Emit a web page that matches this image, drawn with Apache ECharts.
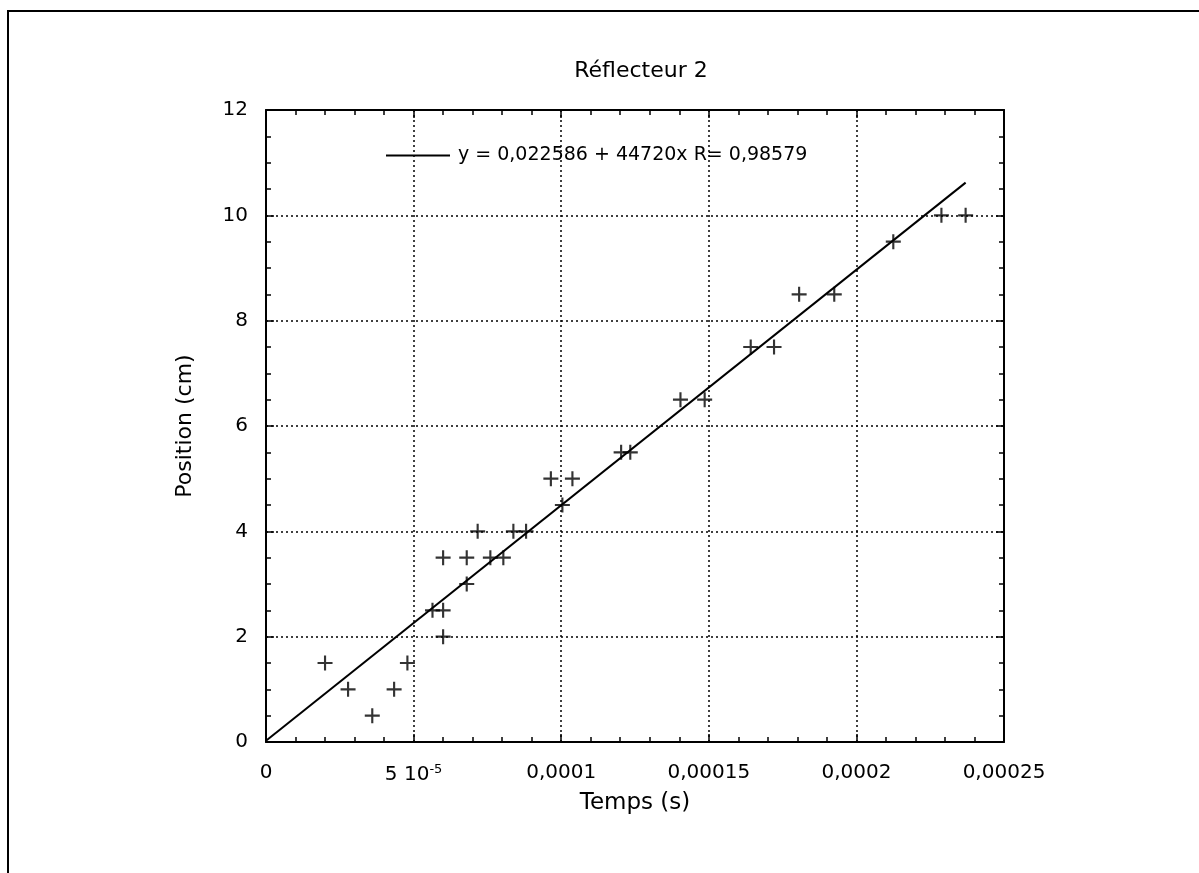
<!DOCTYPE html>
<html>
<head>
<meta charset="utf-8">
<script src="https://cdn.jsdelivr.net/npm/echarts@6/dist/echarts.min.js"></script>
<style>
html,body{margin:0;padding:0;background:#fff;}
#chart{width:1199px;height:873px;}
</style>
</head>
<body>
<div id="chart"></div>
<script>
// ---- data ----
const chartTitle = 'Réflecteur 2';
const xAxisName = 'Temps (s)';
const yAxisName = 'Position (cm)';
const tempsS = [2.0e-5, 2.78e-5, 3.6e-5, 4.34e-5, 4.79e-5, 5.64e-5, 6.0e-5, 6.0e-5, 6.0e-5, 6.8e-5,
  6.8e-5, 7.17e-5, 7.6e-5, 8.04e-5, 8.38e-5, 8.81e-5, 9.65e-5, 1.004e-4, 1.038e-4, 1.203e-4,
  1.234e-4, 1.404e-4, 1.486e-4, 1.642e-4, 1.721e-4, 1.806e-4, 1.925e-4, 2.125e-4, 2.288e-4, 2.37e-4];
const positionCm = [1.5, 1.0, 0.5, 1.0, 1.5, 2.5, 2.5, 2.0, 3.5, 3.5,
  3.0, 4.0, 3.5, 3.5, 4.0, 4.0, 5.0, 4.5, 5.0, 5.5,
  5.5, 6.5, 6.5, 7.5, 7.5, 8.5, 8.5, 9.5, 10.0, 10.0];
const fitIntercept = 0.022586;
const fitSlope = 44720;
const fitRange = [0, 0.000237];
const fitLabel = 'y = 0,022586 + 44720x R= 0,98579';
const xTickLabels = ['0', '5 10{sup|-5}', '0,0001', '0,00015', '0,0002', '0,00025'];
const yTickLabels = ['0', '2', '4', '6', '8', '10', '12'];

const scatterData = tempsS.map((t, i) => [t, positionCm[i]]);
const fitData = fitRange.map(x => [x, fitIntercept + fitSlope * x]);

const FONT = '"DejaVu Sans", "Liberation Sans", Arial, sans-serif';
const plusPath = 'path://M-1,-7H1V-1H7V1H1V7H-1V1H-7V-1H-1Z';

const xStep = 0.00005, yStep = 2;
const baseX = {
  type: 'value', min: 0, max: 0.00025, interval: xStep,
  axisLine: {show: true, onZero: false, lineStyle: {color: '#000', width: 2}},
  axisTick: {show: true, inside: true, length: 8, lineStyle: {color: '#000', width: 1.5}},
  minorTick: {show: true, splitNumber: 5, length: 5, lineStyle: {color: '#000', width: 1.5}},
  splitLine: {show: false}
};
const baseY = {
  type: 'value', min: 0, max: 12, interval: yStep,
  axisLine: {show: true, onZero: false, lineStyle: {color: '#000', width: 2}},
  axisTick: {show: true, inside: true, length: 8, lineStyle: {color: '#000', width: 1.5}},
  minorTick: {show: true, splitNumber: 4, length: 5, lineStyle: {color: '#000', width: 1.5}},
  splitLine: {show: false}
};

const chart = echarts.init(document.getElementById('chart'), null, {renderer: 'canvas'});
chart.setOption({
  backgroundColor: '#fff',
  animation: false,
  textStyle: {fontFamily: FONT, color: '#000'},
  title: {
    text: chartTitle, left: 636, top: 55, textAlign: 'center',
    textStyle: {fontFamily: FONT, fontSize: 22, fontWeight: 'normal', color: '#000'}
  },
  legend: {
    data: [{name: fitLabel, icon: 'rect'}],
    left: 381, top: 141,
    itemWidth: 64, itemHeight: 2, itemGap: 4,
    textStyle: {fontFamily: FONT, fontSize: 19, color: '#000', padding: [0, 0, 0, 3]}
  },
  grid: {left: 266, right: 195, top: 110, bottom: 131},
  xAxis: [
    Object.assign({}, baseX, {
      position: 'bottom',
      name: xAxisName, nameLocation: 'middle', nameGap: 50,
      nameTextStyle: {fontFamily: FONT, fontSize: 23, color: '#000'},
      axisLabel: {
        show: true, margin: 21, color: '#000', fontFamily: FONT, fontSize: 20,
        formatter: v => xTickLabels[Math.round(v / xStep)] || '',
        rich: {sup: {fontSize: 13, verticalAlign: 'top', padding: [0, 0, 10, 0], fontFamily: FONT, color: '#000'}}
      },
      splitLine: {show: true, lineStyle: {color: '#000', width: 1.5, type: [2, 3]}}
    }),
    Object.assign({}, baseX, {position: 'top', axisLabel: {show: false}})
  ],
  yAxis: [
    Object.assign({}, baseY, {
      position: 'left',
      name: yAxisName, nameLocation: 'middle', nameGap: 70, nameRotate: 90,
      nameTextStyle: {fontFamily: FONT, fontSize: 22, color: '#000'},
      axisLabel: {
        show: true, margin: 18, color: '#000', fontFamily: FONT, fontSize: 20,
        formatter: v => yTickLabels[Math.round(v / yStep)] || ''
      },
      splitLine: {show: true, lineStyle: {color: '#000', width: 1.5, type: [2, 3]}}
    }),
    Object.assign({}, baseY, {position: 'right', axisLabel: {show: false}})
  ],
  graphic: [{
    type: 'rect', silent: true, z: -1,
    shape: {x: 8, y: 11, width: 1400, height: 1000},
    style: {fill: 'none', stroke: '#000', lineWidth: 2}
  }],
  series: [
    {
      name: fitLabel, type: 'line', data: fitData, showSymbol: false,
      lineStyle: {color: '#000', width: 2}, itemStyle: {color: '#000'}, z: 3
    },
    {
      name: 'points', type: 'scatter', data: scatterData,
      symbol: plusPath, symbolSize: 15,
      itemStyle: {color: '#000'}, z: 4
    }
  ]
});
</script>
</body>
</html>
